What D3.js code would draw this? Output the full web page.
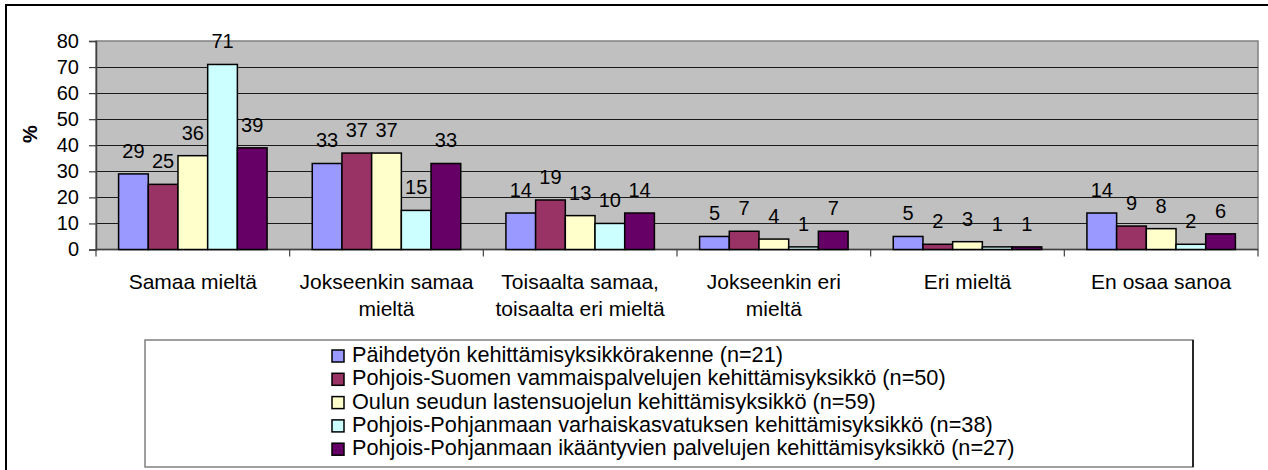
<!DOCTYPE html>
<html>
<head>
<meta charset="utf-8">
<script src="https://cdn.jsdelivr.net/npm/d3@7"></script>
<style>
  body { margin: 0; background: #fff; }
  text { font-family: "Liberation Sans", Arial, sans-serif; fill: #000; }
</style>
</head>
<body>
<svg width="1268" height="470"></svg>
<script>
const categories = [
    ["Samaa mieltä"],
    ["Jokseenkin samaa", "mieltä"],
    ["Toisaalta samaa,", "toisaalta eri mieltä"],
    ["Jokseenkin eri", "mieltä"],
    ["Eri mieltä"],
    ["En osaa sanoa"]
];

const seriesNames = [
    "Päihdetyön kehittämisyksikkörakenne (n=21)",
    "Pohjois-Suomen vammaispalvelujen kehittämisyksikkö (n=50)",
    "Oulun seudun lastensuojelun kehittämisyksikkö (n=59)",
    "Pohjois-Pohjanmaan varhaiskasvatuksen kehittämisyksikkö (n=38)",
    "Pohjois-Pohjanmaan ikääntyvien palvelujen kehittämisyksikkö (n=27)"
];

const paihde   = [29, 33, 14, 5, 5, 14];
const vammais  = [25, 37, 19, 7, 2, 9];
const lasten   = [36, 37, 13, 4, 3, 8];
const varhais  = [71, 15, 10, 1, 1, 2];
const ikaanty  = [39, 33, 14, 7, 1, 6];

const yTicks = [0, 10, 20, 30, 40, 50, 60, 70, 80];

const colors = ["#9999FF", "#993366", "#FFFFCC", "#CCFFFF", "#660066"];

const series = [paihde, vammais, lasten, varhais, ikaanty];

const svg = d3.select("svg");

// outer chart border
svg.append("rect")
    .attr("x", 6).attr("y", 5)
    .attr("width", 1300).attr("height", 500)
    .attr("fill", "none")
    .attr("stroke", "#000")
    .attr("stroke-width", 2);

const plot = {left: 96, right: 1258, top: 41, bottom: 249.5};

const x = d3.scaleBand()
    .domain(d3.range(categories.length))
    .range([plot.left, plot.right])
    .paddingInner(0.2333)
    .paddingOuter(0.11665);

const xs = d3.scaleBand()
    .domain(d3.range(series.length))
    .range([0, x.bandwidth()]);

const y = d3.scaleLinear()
    .domain([0, 80])
    .range([plot.bottom, plot.top]);

// plot background
svg.append("rect")
    .attr("x", plot.left).attr("y", plot.top)
    .attr("width", plot.right - plot.left)
    .attr("height", plot.bottom - plot.top)
    .attr("fill", "#C0C0C0")
    .attr("stroke", "#808080")
    .attr("stroke-width", 1.5);

// gridlines
svg.append("g")
    .selectAll("line")
    .data(yTicks.filter(d => d > 0 && d < 80))
    .join("line")
    .attr("x1", plot.left).attr("x2", plot.right)
    .attr("y1", d => Math.round(y(d)) + 0.5)
    .attr("y2", d => Math.round(y(d)) + 0.5)
    .attr("stroke", "#1a1a1a")
    .attr("stroke-width", 1.2);

// y axis
const yAxis = svg.append("g")
    .attr("transform", `translate(${plot.left},0)`)
    .call(d3.axisLeft(y).tickValues(yTicks).tickSize(7).tickPadding(10));
yAxis.select(".domain").attr("stroke", "#404040").attr("stroke-width", 1.5);
yAxis.selectAll(".tick line").attr("stroke", "#404040").attr("stroke-width", 1.2);
yAxis.selectAll(".tick text")
    .attr("font-size", 20)
    .attr("font-family", "Liberation Sans, Arial, sans-serif");

svg.append("text")
    .attr("transform", "translate(37,134) rotate(-90)")
    .attr("text-anchor", "middle")
    .attr("font-size", 20)
    .attr("font-weight", "bold")
    .text("%");

// x axis line and category boundary ticks
svg.append("line")
    .attr("x1", plot.left).attr("x2", plot.right)
    .attr("y1", plot.bottom).attr("y2", plot.bottom)
    .attr("stroke", "#404040").attr("stroke-width", 1.5);

svg.append("g")
    .selectAll("line")
    .data(d3.range(categories.length + 1))
    .join("line")
    .attr("x1", i => x.range()[0] + i * x.step())
    .attr("x2", i => x.range()[0] + i * x.step())
    .attr("y1", plot.bottom).attr("y2", plot.bottom + 7)
    .attr("stroke", "#404040").attr("stroke-width", 1.2);

// category labels
const catG = svg.append("g")
    .selectAll("text")
    .data(categories)
    .join("text")
    .attr("text-anchor", "middle")
    .attr("font-size", 21)
    .attr("x", (d, i) => x(i) + x.bandwidth() / 2)
    .attr("y", 289);
catG.selectAll("tspan")
    .data(d => d)
    .join("tspan")
    .attr("x", function() { return this.parentNode.getAttribute("x"); })
    .attr("dy", (d, i) => i === 0 ? 0 : 27)
    .text(d => d);

// bars
const groups = svg.append("g")
    .selectAll("g")
    .data(series)
    .join("g")
    .attr("fill", (d, i) => colors[i]);

groups.selectAll("rect")
    .data((vals, s) => vals.map((v, c) => ({v, c, s})))
    .join("rect")
    .attr("x", d => x(d.c) + xs(d.s))
    .attr("y", d => y(d.v))
    .attr("width", xs.bandwidth())
    .attr("height", d => y(0) - y(d.v))
    .attr("stroke", "#000")
    .attr("stroke-width", 1.5);

// data labels
groups.selectAll("text")
    .data((vals, s) => vals.map((v, c) => ({v, c, s})))
    .join("text")
    .attr("text-anchor", "middle")
    .attr("font-size", 20)
    .attr("fill", "#000")
    .attr("x", d => x(d.c) + xs(d.s) + xs.bandwidth() / 2)
    .attr("y", d => y(d.v) - 16)
    .text(d => d.v);

// legend
const legend = {left: 145, top: 340, right: 1193, bottom: 467};
svg.append("rect")
    .attr("x", legend.left).attr("y", legend.top)
    .attr("width", legend.right - legend.left)
    .attr("height", legend.bottom - legend.top)
    .attr("fill", "#fff")
    .attr("stroke", "#808080")
    .attr("stroke-width", 1.5);
svg.append("line")
    .attr("x1", legend.right).attr("x2", legend.right)
    .attr("y1", legend.top).attr("y2", legend.bottom)
    .attr("stroke", "#000").attr("stroke-width", 1.5);

const ly = d3.scalePoint()
    .domain(d3.range(seriesNames.length))
    .range([356, 449.2]);

const items = svg.append("g")
    .selectAll("g")
    .data(seriesNames)
    .join("g")
    .attr("transform", (d, i) => `translate(332,${ly(i)})`);

items.append("rect")
    .attr("x", 0).attr("y", -6)
    .attr("width", 12).attr("height", 12)
    .attr("fill", (d, i) => colors[i])
    .attr("stroke", "#000")
    .attr("stroke-width", 1.5);

items.append("text")
    .attr("x", 20)
    .attr("y", 6)
    .attr("font-size", 21.7)
    .text(d => d);
</script>
</body>
</html>
